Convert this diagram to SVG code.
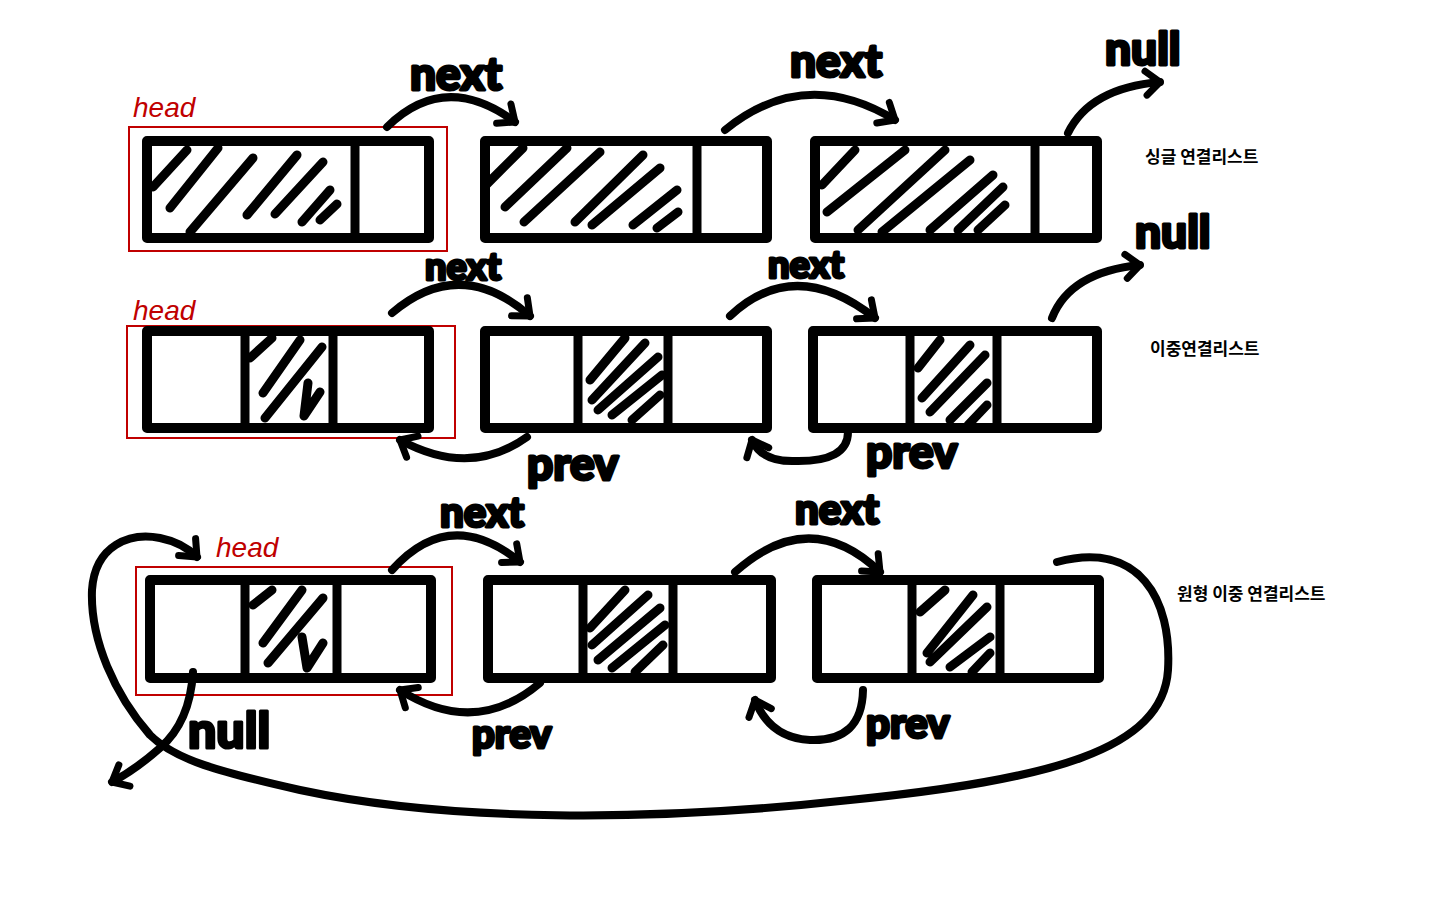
<svg xmlns="http://www.w3.org/2000/svg" width="1440" height="900" viewBox="0 0 1440 900">
<style>
.box{fill:#fff;stroke:#000;stroke-width:10;stroke-linejoin:round}
.div{stroke:#000;stroke-width:9;fill:none}
.hatch{stroke:#000;stroke-width:9;stroke-linecap:round;stroke-linejoin:round;fill:none}
.head{fill:none;stroke:#c00000;stroke-width:2}
.headt{font-family:"Liberation Sans",sans-serif;font-size:28px;fill:#c00000;font-style:italic}
.con{fill:none;stroke:#000;stroke-width:8;stroke-linecap:round;stroke-linejoin:round}
.lbl{font-family:Lato,"DejaVu Sans",sans-serif;font-weight:900;fill:#000;stroke:#000;stroke-width:3;stroke-linejoin:round}
.ko{font-family:"Noto Sans CJK KR",sans-serif;font-weight:700;font-size:17px;fill:#000}
</style>
<defs>
<marker id="ah" viewBox="-20 -16 26 32" markerWidth="26" markerHeight="32" refX="0" refY="0" orient="auto" markerUnits="userSpaceOnUse">
<path d="M-14,-12 L0,0 L-14,12" fill="none" stroke="#000" stroke-width="7" stroke-linecap="round" stroke-linejoin="round"/>
</marker>
</defs>
<rect width="1440" height="900" fill="#fff"/>

<!-- Row 1: singly linked list -->
<g id="head1">
<rect class="head" x="129" y="127" width="318" height="124"/>
<text class="headt" x="133" y="117">head</text>
</g>
<g id="s1">
<rect class="box" x="147" y="141" width="282" height="97"/>
<line class="div" x1="355" y1="141" x2="355" y2="238"/>
<path class="hatch" d="M153,187L187,150M170,208L218,148M190,232L253,158M247,215L297,155M275,214L323,162M302,222L330,190M320,220L337,204"/>
</g>
<g id="s2">
<rect class="box" x="485" y="141" width="282" height="97"/>
<line class="div" x1="697" y1="141" x2="697" y2="238"/>
<path class="hatch" d="M486,185L523,148M505,207L567,148M524,222L600,152M575,222L643,155M592,225L660,168M633,225L677,190M657,228L678,212"/>
</g>
<g id="s3">
<rect class="box" x="815" y="141" width="282" height="97"/>
<line class="div" x1="1035" y1="141" x2="1035" y2="238"/>
<path class="hatch" d="M822,185L855,150M827,212L905,150M858,230L945,150M882,232L970,160M930,230L993,175M958,230L1003,187M978,230L1005,205"/>
</g>
<text class="ko" x="1145" y="163">싱글 연결리스트</text>

<!-- Row 2: doubly linked list -->
<g id="head2">
<rect class="head" x="127" y="326" width="328" height="112"/>
<text class="headt" x="133" y="320">head</text>
</g>
<g id="d1">
<rect class="box" x="147" y="331" width="282" height="97"/>
<line class="div" x1="245" y1="331" x2="245" y2="428"/>
<line class="div" x1="333" y1="331" x2="333" y2="428"/>
<path class="hatch" d="M250,358L272,338M263,393L300,340M265,418L322,347M308,383L304,416L320,392"/>
</g>
<g id="d2">
<rect class="box" x="485" y="331" width="282" height="97"/>
<line class="div" x1="578" y1="331" x2="578" y2="428"/>
<line class="div" x1="668" y1="331" x2="668" y2="428"/>
<path class="hatch" d="M590,380L625,338M592,400L645,343M598,410L658,357M612,415L662,375M632,420L660,395"/>
</g>
<g id="d3">
<rect class="box" x="813" y="331" width="284" height="97"/>
<line class="div" x1="910" y1="331" x2="910" y2="428"/>
<line class="div" x1="997" y1="331" x2="997" y2="428"/>
<path class="hatch" d="M918,368L940,340M922,398L970,345M930,412L985,355M950,420L987,383M968,425L987,405"/>
</g>
<text class="ko" x="1150" y="355">이중연결리스트</text>

<!-- Row 3: circular doubly linked list -->
<g id="head3">
<rect class="head" x="136" y="567" width="316" height="128"/>
<text class="headt" x="216" y="557">head</text>
</g>
<g id="c1">
<rect class="box" x="150" y="580" width="281" height="98"/>
<line class="div" x1="245" y1="580" x2="245" y2="678"/>
<line class="div" x1="337" y1="580" x2="337" y2="678"/>
<path class="hatch" d="M253,605L272,590M263,643L302,590M268,663L323,598M302,637L307,668L323,643"/>
</g>
<g id="c2">
<rect class="box" x="488" y="580" width="283" height="98"/>
<line class="div" x1="583" y1="580" x2="583" y2="678"/>
<line class="div" x1="673" y1="580" x2="673" y2="678"/>
<path class="hatch" d="M590,628L625,590M592,645L648,595M598,660L660,608M612,668L665,625M635,672L663,645"/>
</g>
<g id="c3">
<rect class="box" x="817" y="580" width="282" height="98"/>
<line class="div" x1="912" y1="580" x2="912" y2="678"/>
<line class="div" x1="1000" y1="580" x2="1000" y2="678"/>
<path class="hatch" d="M920,612L945,590M927,653L973,595M930,662L987,607M950,667L990,637M972,672L990,653"/>
</g>
<text class="ko" x="1177" y="600">원형 이중 연결리스트</text>

<!-- Connectors -->
<g id="connectors">
<path class="con" marker-end="url(#ah)" d="M387,127 Q445,70 515,122"/>
<path class="con" marker-end="url(#ah)" d="M725,130 Q805,65 895,120"/>
<path class="con" marker-end="url(#ah)" d="M1068,133 Q1090,88 1160,82"/>

<path class="con" marker-end="url(#ah)" d="M392,313 Q460,255 530,316"/>
<path class="con" marker-end="url(#ah)" d="M730,316 Q795,255 875,318"/>
<path class="con" marker-end="url(#ah)" d="M1052,318 Q1070,272 1140,265"/>
<path class="con" marker-end="url(#ah)" d="M527,437 Q470,478 400,440"/>
<path class="con" marker-end="url(#ah)" d="M848,432 Q848,462 795,461 Q762,462 752,440"/>

<path class="con" marker-end="url(#ah)" d="M392,570 Q450,505 520,562"/>
<path class="con" marker-end="url(#ah)" d="M735,572 Q810,505 880,572"/>
<path class="con" marker-end="url(#ah)" d="M540,683 Q475,738 400,690"/>
<path class="con" marker-end="url(#ah)" d="M863,690 Q862,742 810,740 Q770,738 755,700"/>
<path class="con" marker-end="url(#ah)" d="M193,672 Q190,722 160,748 Q135,770 112,782"/>
<path class="con" marker-end="url(#ah)" d="M1057,562 C1140,540 1172,600 1168,670 C1163,750 1050,780 850,800 C650,822 450,822 300,790 C220,772 175,760 150,735 C115,695 90,640 92,590 C95,545 130,532 160,538 C180,542 190,550 197,557"/>
</g>

<!-- Labels -->
<text class="lbl" x="410" y="90" font-size="46">next</text>
<text class="lbl" x="790" y="77" font-size="46">next</text>
<text class="lbl" x="1105" y="65" font-size="46">null</text>
<text class="lbl" x="425" y="280" font-size="38">next</text>
<text class="lbl" x="768" y="278" font-size="38">next</text>
<text class="lbl" x="1135" y="248" font-size="46">null</text>
<text class="lbl" x="527" y="480" font-size="46">prev</text>
<text class="lbl" x="866" y="468" font-size="46">prev</text>
<text class="lbl" x="440" y="527" font-size="42">next</text>
<text class="lbl" x="795" y="524" font-size="42">next</text>
<text class="lbl" x="472" y="748" font-size="40">prev</text>
<text class="lbl" x="866" y="738" font-size="42">prev</text>
<text class="lbl" x="188" y="748" font-size="50">null</text>
</svg>
